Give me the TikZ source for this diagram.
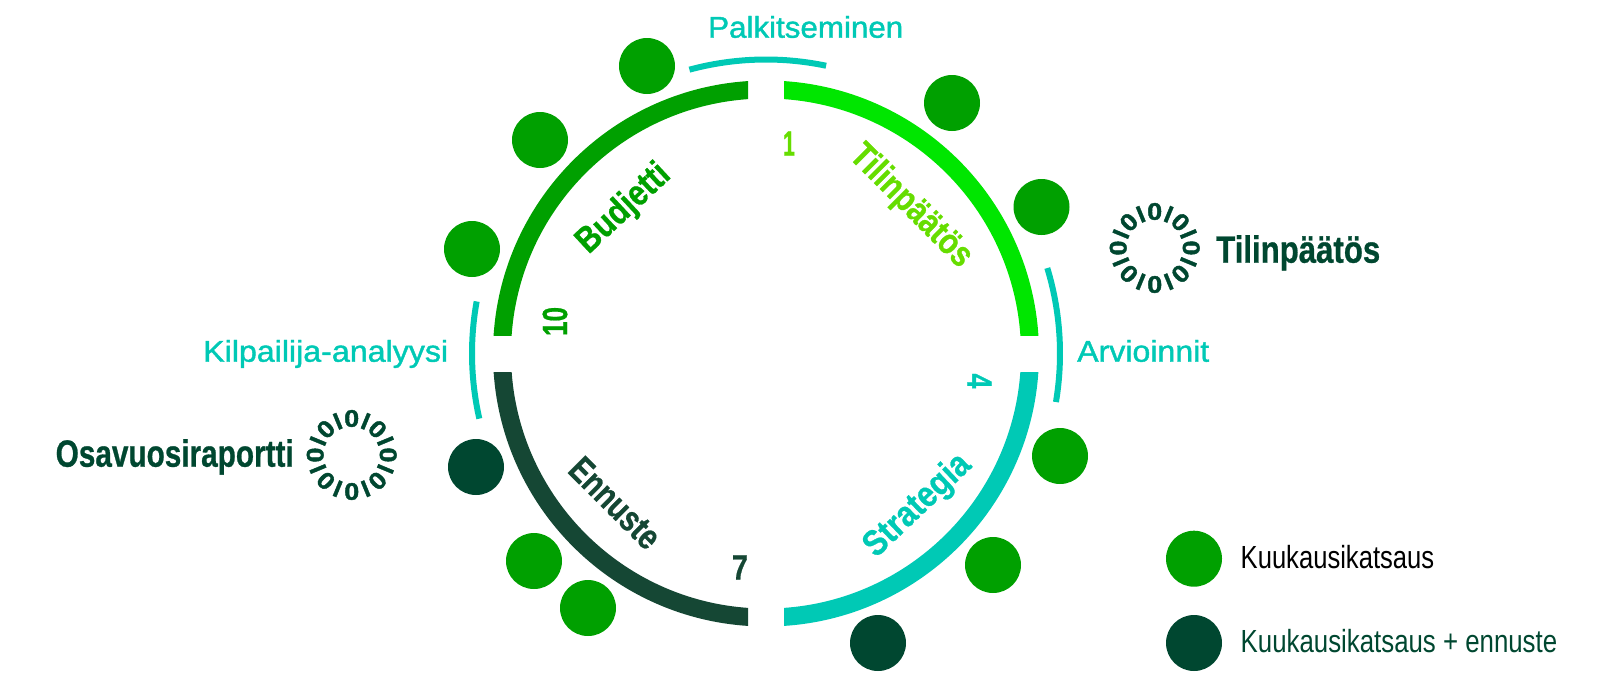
\documentclass[tikz,border=0pt]{standalone}
\usepackage{fontspec}
\usepackage{graphicx}
\setmainfont{Liberation Sans}
\newfontfamily\hvy{Liberation Sans}[UprightFont=* Bold,FakeBold=0.8]
\newfontfamily\med{Liberation Sans}[FakeBold=1.3]
\newfontfamily\ringf{Liberation Sans}[UprightFont=* Bold,FakeBold=1.6]
\definecolor{cLime}{HTML}{00E600}
\definecolor{cLimeT}{HTML}{66DD00}
\definecolor{cGreen}{HTML}{00A000}
\definecolor{cTeal}{HTML}{00C9B5}
\definecolor{cDarkArc}{HTML}{154734}
\definecolor{cDark}{HTML}{004730}
\newcommand{\wtxt}[2]{\resizebox{#1pt}{\height}{#2}}
\tikzset{
  mainarc/.style={line width=18pt,draw=#1},
  thinarc/.style={line width=6pt,draw=cTeal},
  dot/.style={circle,fill=#1,minimum size=56pt,inner sep=0pt},
  lab/.style={inner sep=0pt,anchor=base west},
  regtxt/.style={font=\fontsize{30}{30}\med},
  headtxt/.style={font=\fontsize{38}{38}\hvy,text=cDark},
  inner/.style={inner sep=0pt,font=\fontsize{36}{36}\hvy},
  num/.style={inner sep=0pt,font=\fontsize{35}{35}\hvy},
  ringg/.style={inner sep=0pt,text=cDark,font=\fontsize{24}{24}\ringf},
}
\begin{document}
\begin{tikzpicture}[x=1pt,y=-1pt]
\useasboundingbox (0,0) rectangle (1610,673);
\coordinate (C) at (766,353.5);
% main arcs
\begin{scope}\clip (480,60) rectangle (748,335); \draw[mainarc=cGreen] (C) circle (264pt);\end{scope}
\begin{scope}\clip (784,60) rectangle (1060,335); \draw[mainarc=cLime] (C) circle (264pt);\end{scope}
\begin{scope}\clip (784,372) rectangle (1060,640); \draw[mainarc=cTeal] (C) circle (264pt);\end{scope}
\begin{scope}\clip (480,372) rectangle (748,640); \draw[mainarc=cDarkArc] (C) circle (264pt);\end{scope}
% thin arcs (angles clockwise on screen)
\draw[thinarc] (C) ++(-105.1:294) arc (-105.1:-78.2:294);
\draw[thinarc] (C) ++(-16.9:294) arc (-16.9:9.5:294);
\draw[thinarc] (C) ++(190.2:294) arc (190.2:167.2:294);
% dots
\node[dot=cGreen] (d1) at (647,66) {};
\node[dot=cGreen] (d2) at (540,140) {};
\node[dot=cGreen] (d3) at (472,249) {};
\node[dot=cGreen] (d4) at (952,103) {};
\node[dot=cGreen] (d5) at (1041.5,207) {};
\node[dot=cGreen] (d6) at (1060,456) {};
\node[dot=cGreen] (d7) at (993,565) {};
\node[dot=cDark] (d8) at (878,643) {};
\node[dot=cGreen] (d9) at (588,608) {};
\node[dot=cGreen] (d10) at (534,561) {};
\node[dot=cDark] (d11) at (476,467) {};
\node[dot=cGreen] (leg1) at (1194,558.7) {};
\node[dot=cDark] (leg2) at (1194,643) {};
% outer labels
\node[lab,regtxt,text=cTeal] (palk) at (708,37.7) {\wtxt{195}{Palkitseminen}};
\node[lab,regtxt,text=cTeal] (arv) at (1077,361.7) {\wtxt{132}{Arvioinnit}};
\node[lab,regtxt,text=cTeal] (kilp) at (203,361.7) {\wtxt{245}{Kilpailija-analyysi}};
\node[lab,headtxt] (til) at (1216,262.7) {\wtxt{164}{Tilinpäätös}};
\node[lab,headtxt] (osa) at (55.5,466.7) {\wtxt{238}{Osavuosiraportti}};
\node[lab,font=\fontsize{32}{32}\selectfont,text=black] (l1) at (1240.5,568) {\wtxt{193.5}{Kuukausikatsaus}};
\node[lab,font=\fontsize{32}{32}\selectfont,text=cDark] (l2) at (1240.5,652) {\wtxt{316.5}{Kuukausikatsaus + ennuste}};
% inner labels
\node[inner,text=cLimeT,rotate=-45] (t1) at (910.5,206.5) {\wtxt{158}{Tilinpäätös}};
\node[inner,text=cGreen,rotate=43] (t2) at (624,209) {\wtxt{114}{Budjetti}};
\node[inner,text=cDarkArc,rotate=-45] (t3) at (615,503) {\wtxt{113}{Ennuste}};
\node[inner,text=cTeal,rotate=43.5] (t4) at (918,506) {\wtxt{133}{Strategia}};
% numbers
\node[num,text=cLimeT] (n1) at (789,143.5) {\wtxt{12}{1}};
\node[num,text=cTeal,rotate=-90] (n4) at (979.5,381) {\wtxt{15}{4}};
\node[num,text=cDarkArc] (n7) at (740,567.5) {\wtxt{16}{7}};
\node[num,text=cGreen,rotate=90] (n10) at (555,321.5) {\wtxt{29}{10}};
% rings of digits
\foreach \cx/\cy/\nm in {1154.7/248/ra,351.7/455/rb}{
  \foreach \i in {0,...,15}{
    \pgfmathsetmacro{\ph}{90+22.5*\i}
    \pgfmathsetmacro{\rt}{22.5*\i}
    \pgfmathsetmacro{\px}{\cx+36.5*cos(\ph)}
    \pgfmathsetmacro{\py}{\cy-36.5*sin(\ph)}
    \pgfmathtruncatemacro{\odd}{mod(\i,2)}
    \ifnum\odd=0 \def\gl{\scalebox{1.12}[1]{0}}\else \def\gl{I}\fi
    \node[ringg,rotate=\rt] (\nm-\i) at (\px,\py) {\gl};
  }
}
\end{tikzpicture}
\end{document}
